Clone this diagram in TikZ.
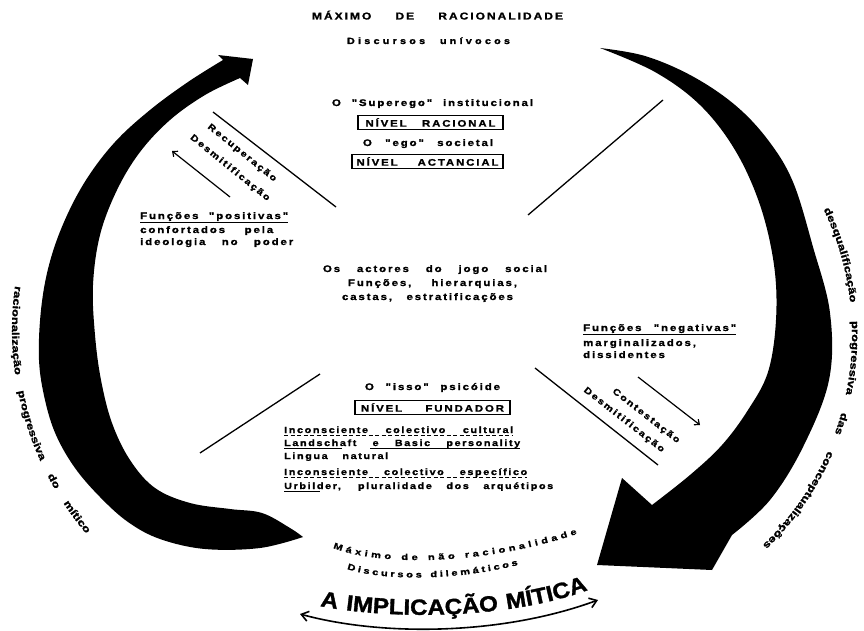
\documentclass[tikz,border=0pt]{standalone}
\usepackage{fontspec}
\setmainfont{Liberation Sans}
\newfontfamily\hb{Liberation Sans Bold}[FakeStretch=1.2,LetterSpace=20,FakeBold=1.4]
\newfontfamily\hbx{Liberation Sans Bold}[FakeStretch=1.2,LetterSpace=36,FakeBold=1.4]
\newfontfamily\hbt{Liberation Sans Bold}[FakeStretch=1.2,LetterSpace=18,FakeBold=1.4]
\newfontfamily\hbd{Liberation Sans Bold}[FakeStretch=1.3,FakeBold=1.4]
\newfontfamily\hbw{Liberation Sans Bold}[FakeStretch=1.1,FakeBold=1.4]
\usetikzlibrary{decorations.text,arrows.meta}
\newcommand\fsz[1]{\fontsize{#1}{#1}\selectfont}
\newcommand\fw[2]{\makebox[#1pt][s]{#2}}
\begin{document}
\begin{tikzpicture}[x=1pt,y=1pt,
  t/.style={inner sep=0pt, anchor=base, font=\hb\fsz{9.5}},
  tl/.style={inner sep=0pt, anchor=base west, font=\hb\fsz{9.5}},
  tb/.style={inner sep=0pt, anchor=base west, font=\hbt\fsz{9}},
  lvl/.style={draw, line width=1.6pt, inner sep=0pt, minimum height=14pt, font=\hb\fsz{9.5}},
  rot/.style={inner sep=0pt, font=\hb\fsz{9}},
  ln/.style={line width=1.3pt},
  ul/.style={line width=0.9pt},
  sarr/.style={line width=1.2pt, -{Straight Barb[length=4pt,width=7pt]}},
  side/.style={decorate, decoration={text along path, text align={fit to path stretching spaces}, text={#1}}},
  fitt/.style={decorate, decoration={text along path, text align={fit to path}, text={#1}}},
]
\useasboundingbox (0,0) rectangle (864,-631);
\fill[white] (0,0) rectangle (864,-631);

% ---- big curved arrows ----
\fill plot[smooth, tension=0.6] coordinates {(303,-537) (260,-548) (205,-549) (160,-539) (128,-522) (100,-497) (75,-468) (56,-435) (45,-400) (39,-360) (41,-310) (49,-265) (64,-222) (86,-180) (115,-142) (150,-110) (188,-82) (223,-60)}
  -- (218,-55) -- (253,-59) -- (248,-85) -- (240,-78)
  -- plot[smooth, tension=0.6] coordinates {(240,-78) (205,-95) (170,-120) (140,-152) (117,-190) (100,-235) (93,-285) (95,-335) (101,-380) (112,-423) (130,-460) (155,-488) (190,-503) (230,-509) (262,-513) (290,-528) (303,-537)} -- cycle;

\fill plot[smooth, tension=0.6] coordinates {(600,-48) (645,-56) (692,-76) (735,-105) (768,-140) (793,-182) (813,-247) (830,-313) (829,-380) (803,-447) (770,-500) (732,-535)}
  -- (712,-570) -- (597,-565) -- (622,-478) -- (652,-505)
  -- plot[smooth, tension=0.6] coordinates {(652,-505) (690,-475) (722,-445) (748,-410) (768,-372) (776,-320) (774,-265) (760,-205) (735,-150) (700,-105) (655,-72) (600,-48)} -- cycle;

% ---- diagonal lines ----
\coordinate (l1a) at (213,-112); \coordinate (l1b) at (336,-207);
\coordinate (l2a) at (528,-215); \coordinate (l2b) at (663,-100);
\coordinate (l3a) at (200,-453); \coordinate (l3b) at (320,-374);
\coordinate (l4a) at (535,-368); \coordinate (l4b) at (658,-465);
\draw[ln] (l1a) -- (l1b);
\draw[ln] (l2a) -- (l2b);
\draw[ln] (l3a) -- (l3b);
\draw[ln] (l4a) -- (l4b);

% ---- small arrows ----
\coordinate (s1a) at (230,-197); \coordinate (s1b) at (172,-151);
\coordinate (s2a) at (638,-377); \coordinate (s2b) at (700,-425);
\draw[sarr] (s1a) -- (s1b);
\draw[sarr] (s2a) -- (s2b);

% ---- top ----
\node[t, font=\hb\fsz{10}] (title) at (437.5,-19.5) {\fw{251}{MÁXIMO DE RACIONALIDADE}};
\node[t, font=\hbx\fsz{9}] (univ) at (428.5,-44) {\fw{163}{Discursos unívocos}};

\node[t] (sup) at (432.5,-106) {\fw{201}{O "Superego" institucional}};
\node[lvl, minimum width=145pt] (nr) at (430.5,-122.5) {\fw{130}{NÍVEL RACIONAL}};
\node[t] (ego) at (428,-146) {\fw{130}{O "ego" societal}};
\node[lvl, minimum width=151pt] (na) at (427.5,-161.5) {\fw{142}{NÍVEL ACTANCIAL}};

% ---- left block ----
\node[tl] (fp) at (140,-219) {\fw{148}{Funções "positivas"}};
\draw[ul] ([yshift=-3.5pt]fp.base west) -- ([yshift=-3.5pt]fp.base east);
\node[tl] (fp2) at (140,-233) {\fw{133}{confortados pela}};
\node[tl] (fp3) at (140,-245) {\fw{153}{ideologia no poder}};

\node[rot, rotate=-39] (rec) at (242,-153) {Recuperação};
\node[rot, rotate=-39] (dm1) at (230,-168) {Desmitificação};

% ---- centre ----
\node[t] (c1) at (435,-272) {\fw{224}{Os actores do jogo social}};
\node[t] (c2) at (432.5,-286) {\fw{169}{Funções, hierarquias,}};
\node[t] (c3) at (427.5,-300) {\fw{171}{castas, estratificações}};

% ---- right block ----
\node[tl] (fn) at (583,-331) {\fw{153}{Funções "negativas"}};
\draw[ul] ([yshift=-3.5pt]fn.base west) -- ([yshift=-3.5pt]fn.base east);
\node[tl] (fn2) at (583,-346) {\fw{118}{marginalizados,}};
\node[tl] (fn3) at (583,-358) {dissidentes};

\node[rot, rotate=-38] (con) at (646,-416) {Contestação};
\node[rot, rotate=-38] (dm2) at (624,-420) {Desmitificação};

% ---- lower centre ----
\node[t] (isso) at (432.5,-390) {\fw{135}{O "isso" psicóide}};
\node[lvl, minimum width=155pt] (nf) at (432.5,-407.5) {\fw{143}{NÍVEL FUNDADOR}};

\node[tb] (b1) at (284,-433) {\fw{229}{Inconsciente colectivo cultural}};
\node[tb] (b2) at (284,-446) {\fw{236}{Landschaft e Basic personality}};
\node[tb] (b3) at (284,-459) {\fw{104}{Lingua natural}};
\node[tb] (b4) at (284,-475) {\fw{243}{Inconsciente colectivo específico}};
\node[tb] (b5) at (284,-489) {\fw{269}{Urbilder, pluralidade dos arquétipos}};
\draw[ul, dash pattern=on 4pt off 2.5pt] ([yshift=-2.5pt]b1.base west) -- ([yshift=-2.5pt]b1.base east);
\draw[ul] ([yshift=-2.5pt]b2.base west) -- ++(58,0);
\draw[ul] ([xshift=-150pt,yshift=-2.5pt]b2.base east) -- ([yshift=-2.5pt]b2.base east);
\draw[ul, dash pattern=on 4pt off 2.5pt] ([yshift=-2.5pt]b4.base west) -- ([yshift=-2.5pt]b4.base east);
\draw[ul] ([yshift=-2.5pt]b5.base west) -- ++(36,0);

% ---- curved texts ----
\path[side={|\hbd\fsz{10}|racionalização progressiva do mítico}] (329,-330) ++(172:317) arc[start angle=172, end angle=220, radius=317];
\path[side={|\hbd\fsz{10}|desqualificação progressiva das conceptualizações}] (560,-335) ++(25.5:292) arc[start angle=25.5, end angle=-46, radius=292];

\path[fitt={|\hbd\fsz{8.5}|Máximo de não racionalidade}] (333,-548) .. controls (380,-566) and (480,-566) .. (577,-534);
\path[fitt={|\hbd\fsz{8.5}|Discursos dilemáticos}] (347,-569) .. controls (380,-580) and (450,-582) .. (518,-565);
\path[side={|\hbw\fsz{22}|A IMPLICAÇÃO MÍTICA}] (320,-606) .. controls (380,-618) and (500,-622) .. (588,-590);

\coordinate (dl) at (300,-614); \coordinate (dr) at (598,-600);
\draw[line width=1.6pt, {Straight Barb[length=7pt,width=10pt]}-{Straight Barb[length=7pt,width=10pt]}] (dl) .. controls (380,-636) and (500,-636) .. (dr);
\end{tikzpicture}
\end{document}
